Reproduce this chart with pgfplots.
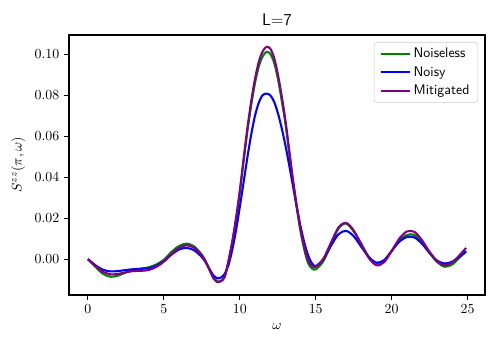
\documentclass[border=0pt]{standalone}
\usepackage{pgfplots}
\pgfplotsset{compat=1.18}
\definecolor{mplgreen}{RGB}{0,128,0}
\definecolor{mplpurple}{RGB}{128,0,128}
\begin{document}
\begin{tikzpicture}
\begin{axis}[
  scale only axis,
  width=299.5pt, height=187.2pt,
  xmin=-1.245, xmax=26.145,
  ymin=-0.0175, ymax=0.1094,
  xtick={0,5,...,25},
  ytick={0,0.02,0.04,0.06,0.08,0.1},
  scaled y ticks=false,
  yticklabel style={/pgf/number format/.cd, fixed, fixed zerofill, precision=2},
  tick align=outside, major tick length=3.5pt,
  xtick pos=left, ytick pos=left,
  axis line style={line width=0.8pt},
  tick style={line width=0.8pt, black},
  title={\sffamily L=7},
  title style={font=\large, yshift=-3pt},
  xlabel={$\omega$}, ylabel={$S^{zz}(\pi,\omega)$},
  legend cell align=left,
  legend image code/.code={\draw[#1] (0pt,0pt) -- (21pt,0pt);},
  legend style={at={(1,1)}, anchor=north east, xshift=-5pt, yshift=-5pt,
    font=\sffamily, draw=black!20, rounded corners=2pt, fill=white,
    fill opacity=0.8, text opacity=1, row sep=1pt, inner xsep=4pt},
]
% omega step 0.5 away from the main peak, 0.25 near it
\addplot[mplgreen, line width=1.5pt, smooth] coordinates {
(0,0) (0.5,-0.0038) (1.0,-0.0072) (1.5,-0.0086) (2.0,-0.0080) (2.5,-0.0065)
(3.0,-0.0052) (3.5,-0.0046) (4.0,-0.0040) (4.5,-0.0026) (5.0,-0.0003)
(5.5,0.0035) (6.0,0.0064) (6.5,0.0076) (7.0,0.0062) (7.5,0.0022)
(7.75,-0.0010) (8.0,-0.0050) (8.25,-0.0088) (8.5,-0.0108) (8.75,-0.0106)
(9.0,-0.0085) (9.25,-0.0012) (9.5,0.0080) (9.75,0.0193) (10.0,0.0325)
(10.25,0.0477) (10.5,0.0624) (10.75,0.0751) (11.0,0.0859) (11.25,0.0940)
(11.5,0.0989) (11.75,0.1011) (12.0,0.1003) (12.25,0.0961) (12.5,0.0884)
(12.75,0.0778) (13.0,0.0663) (13.25,0.0520) (13.5,0.0378) (13.75,0.0250)
(14.0,0.0135) (14.25,0.0045) (14.5,-0.0020) (14.75,-0.0045) (15.0,-0.0050)
(15.5,-0.0010) (16.0,0.0070) (16.5,0.0150) (17.0,0.0174)
(17.5,0.0135) (18.0,0.0075) (18.5,0.0010) (19.0,-0.0022) (19.5,-0.0008)
(20.0,0.0040) (20.5,0.0090) (21.0,0.0118) (21.5,0.0118) (22.0,0.0080)
(22.5,0.0030) (23.0,-0.0015) (23.5,-0.0037) (24.0,-0.0025) (24.5,0.0010)
(24.9,0.0036)};
\addlegendentry{Noiseless}
\addplot[blue, line width=1.5pt, smooth] coordinates {
(0,0) (0.5,-0.0030) (1.0,-0.0052) (1.5,-0.0060) (2.0,-0.0058) (2.5,-0.0053)
(3.0,-0.0049) (3.5,-0.0047) (4.0,-0.0044) (4.5,-0.0032) (5.0,-0.0010)
(5.5,0.0022) (6.0,0.0047) (6.5,0.0055) (7.0,0.0043) (7.5,0.0010)
(7.75,-0.0015) (8.0,-0.0048) (8.25,-0.0078) (8.5,-0.0093) (8.75,-0.0090)
(9.0,-0.0072) (9.25,-0.0030) (9.5,0.0045) (9.75,0.0140) (10.0,0.0255)
(10.25,0.0375) (10.5,0.0497) (10.75,0.0608) (11.0,0.0700) (11.25,0.0764)
(11.5,0.0800) (11.75,0.0808) (12.0,0.0800) (12.25,0.0770) (12.5,0.0715)
(12.75,0.0642) (13.0,0.0557) (13.25,0.0460) (13.5,0.0357) (13.75,0.0255)
(14.0,0.0160) (14.25,0.0080) (14.5,0.0018) (14.75,-0.0020) (15.0,-0.0034)
(15.5,0.0000) (16.0,0.0065) (16.5,0.0122) (17.0,0.0138)
(17.5,0.0112) (18.0,0.0060) (18.5,0.0010) (19.0,-0.0017) (19.5,-0.0005)
(20.0,0.0040) (20.5,0.0085) (21.0,0.0108) (21.5,0.0106) (22.0,0.0075)
(22.5,0.0030) (23.0,-0.0008) (23.5,-0.0021) (24.0,-0.0012) (24.5,0.0015)
(24.9,0.0039)};
\addlegendentry{Noisy}
\addplot[mplpurple, line width=1.5pt, smooth] coordinates {
(0,0) (0.5,-0.0033) (1.0,-0.0062) (1.5,-0.0074) (2.0,-0.0072) (2.5,-0.0064)
(3.0,-0.0058) (3.5,-0.0057) (4.0,-0.0053) (4.5,-0.0038) (5.0,-0.0012)
(5.5,0.0025) (6.0,0.0055) (6.5,0.0068) (7.0,0.0055) (7.5,0.0018)
(7.75,-0.0012) (8.0,-0.0052) (8.25,-0.0092) (8.5,-0.0111) (8.75,-0.0108)
(9.0,-0.0088) (9.25,-0.0010) (9.5,0.0085) (9.75,0.0200) (10.0,0.0335)
(10.25,0.0490) (10.5,0.0640) (10.75,0.0770) (11.0,0.0880) (11.25,0.0963)
(11.5,0.1013) (11.75,0.1036) (12.0,0.1028) (12.25,0.0985) (12.5,0.0905)
(12.75,0.0800) (13.0,0.0680) (13.25,0.0535) (13.5,0.0390) (13.75,0.0260)
(14.0,0.0145) (14.25,0.0060) (14.5,-0.0005) (14.75,-0.0032) (15.0,-0.0037)
(15.5,0.0002) (16.0,0.0080) (16.5,0.0155) (17.0,0.0177)
(17.5,0.0140) (18.0,0.0072) (18.5,0.0005) (19.0,-0.0030) (19.5,-0.0015)
(20.0,0.0040) (20.5,0.0100) (21.0,0.0135) (21.5,0.0133) (22.0,0.0092)
(22.5,0.0035) (23.0,-0.0010) (23.5,-0.0030) (24.0,-0.0015) (24.5,0.0022)
(24.9,0.0055)};
\addlegendentry{Mitigated}
\end{axis}
\pgfresetboundingbox
\path ([shift={(-49.7pt,-39.6pt)}]current axis.south west) rectangle ([shift={(10.8pt,25.2pt)}]current axis.north east);
\end{tikzpicture}
\end{document}
